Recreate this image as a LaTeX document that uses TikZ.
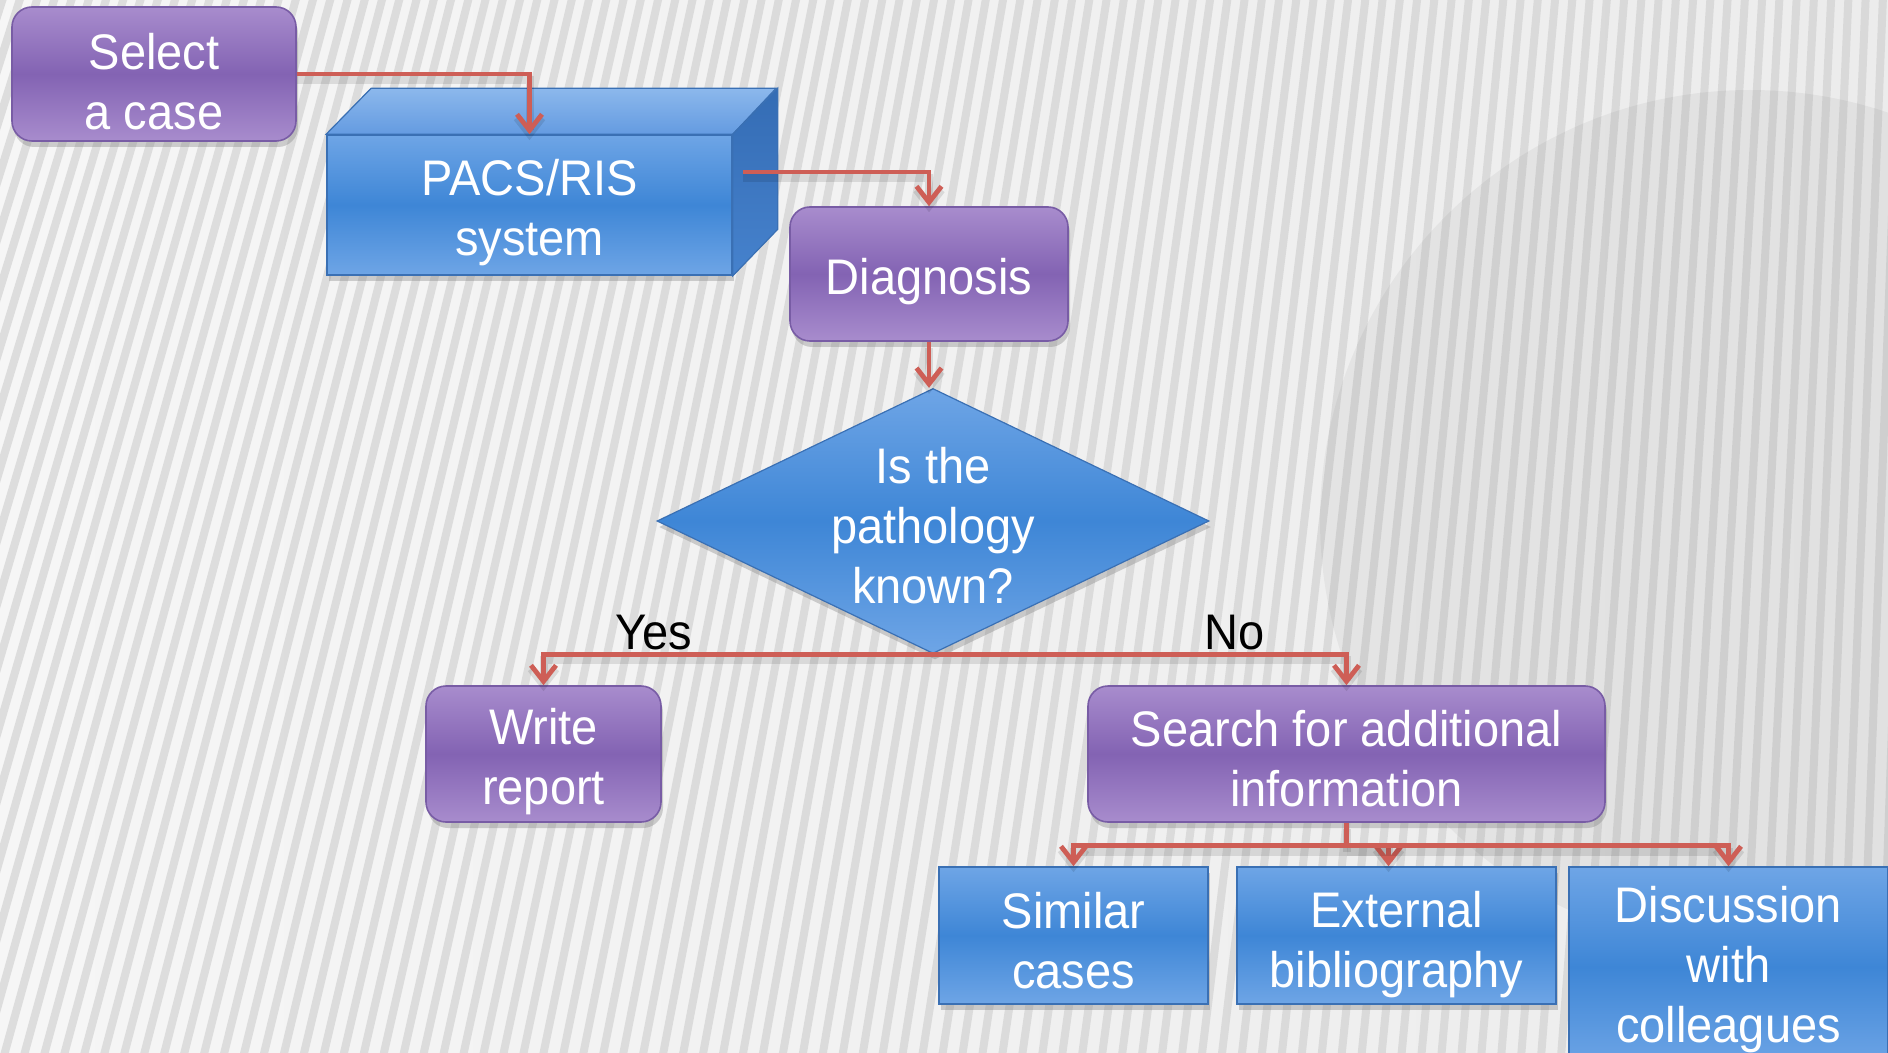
\documentclass[tikz,border=0pt]{standalone}
\usepackage{fontspec}
\setmainfont[FakeStretch=0.94]{Liberation Sans}
\usetikzlibrary{arrows.meta,shapes.geometric,shadows,calc}
\definecolor{purpTop}{RGB}{168,140,205}
\definecolor{purpMid}{RGB}{131,99,179}
\definecolor{purpEdge}{RGB}{120,92,165}
\definecolor{bluTop}{RGB}{110,165,230}
\definecolor{bluMid}{RGB}{62,134,214}
\definecolor{bluEdge}{RGB}{58,112,180}
\definecolor{bluFace}{RGB}{140,184,236}
\definecolor{bluFaceB}{RGB}{100,155,225}
\definecolor{bluSide}{RGB}{52,108,180}
\definecolor{bluSideB}{RGB}{70,130,205}
\definecolor{arrowc}{RGB}{206,94,86}
\definecolor{bgA}{RGB}{246,246,246}
\definecolor{bgB}{RGB}{236,236,236}
\definecolor{stripec}{RGB}{205,205,205}
\newcommand\dfont{\fontsize{25}{30}\selectfont}
\newcommand\tup{\rule{0pt}{25.5pt}}
\begin{document}
\begin{tikzpicture}[x=0.5pt,y=-0.5pt,
  shad/.style={drop shadow={opacity=0.35,shadow xshift=1pt,shadow yshift=-3pt}},
  purp/.style={rectangle,rounded corners=10pt,draw=purpEdge,line width=0.8pt,
    top color=purpTop,bottom color=purpTop,middle color=purpMid,
    text=white,align=center,font=\dfont,inner sep=0pt,shad},
  blu/.style={rectangle,draw=bluEdge,line width=0.8pt,
    top color=bluTop,bottom color=bluTop,middle color=bluMid,
    text=white,align=center,font=\dfont,inner sep=0pt,shad},
  txt/.style={text=white,align=center,font=\dfont,inner sep=0pt},
  lbl/.style={text=black,font=\dfont,inner sep=0pt},
  lshad/.style={preaction={draw=black,opacity=0.10,line width=4pt,transform canvas={yshift=-3pt}}},
  conn/.style={draw=arrowc,line width=2.4pt,lshad,-{Straight Barb[length=8pt,width=12.5pt]}},
  line/.style={draw=arrowc,line width=2.4pt,lshad},
  stripe/.style={draw=stripec,opacity=0.6,line width=4pt}]
\clip (0,0) rectangle (1888,1053);
% background
\shade[left color=bgA,right color=bgB] (0,0) rectangle (1888,1053);
\foreach \i in {0,...,118} {
  \pgfmathsetmacro\xa{-420+\i*20}
  \pgfmathsetmacro\tilt{max(30,360-\i*2.8)}
  \draw[stripe] (\xa,1070) -- ({\xa+\tilt},-20);
}
\fill[black,opacity=0.045] (1750,520) circle (430);
% nodes
\node[purp,minimum width=142pt,minimum height=67pt] (sel) at (154,74) {\tup Select\\a case};
\node[blu,minimum width=202.5pt,minimum height=70pt] (pacs) at (529.5,205) {\tup PACS/RIS\\system};
\fill[top color=bluFace,bottom color=bluFaceB,draw=bluEdge,line width=0.6pt]
  (pacs.north west) -- ++(45,-46) -- ++(405,0) -- (pacs.north east) -- cycle;
\fill[top color=bluSide,bottom color=bluSideB,draw=bluEdge,line width=0.6pt]
  (pacs.north east) -- ++(45,-46) -- ++(0,141) -- (pacs.south east) -- cycle;
\node[purp,minimum width=139pt,minimum height=67pt] (diag) at (929,274) {\tup Diagnosis};
\node[diamond,minimum width=276pt,minimum height=132.5pt,inner sep=0pt,
  draw=bluEdge,line width=0.6pt,top color=bluTop,bottom color=bluTop,middle color=bluMid,shad]
  (dia) at (933,521) {};
\node[txt] (diat) at (933,526) {Is the\\pathology\\known?};
\node[purp,minimum width=117.5pt,minimum height=68pt] (write) at (543.5,754) {\tup Write\\report};
\node[purp,minimum width=258.5pt,minimum height=68pt] (search) at (1346.5,754) {\rule{0pt}{23pt}Search for additional\\information};
\node[blu,minimum width=134.5pt,minimum height=68.5pt] (sim) at (1073.5,935.5) {\rule{0pt}{23.5pt}Similar\\cases};
\node[blu,minimum width=159.5pt,minimum height=68.5pt] (ext) at (1396.5,935.5) {\rule{0pt}{27pt}External\\bibliography};
\node[blu,minimum width=159.5pt,minimum height=100pt] (disc) at (1728.5,967) {\rule{0pt}{21pt}Discussion\\with\\colleagues};
\node[lbl] (yes) at (654,633) {Yes};
\node[lbl] (no) at (1235,633) {No};
% connectors
\coordinate (pout) at (743,172);
\draw[conn] (sel.east) -| (pacs.north);
\draw[conn] (pout) -| (diag.north);
\draw[conn] (diag.south) -- (diag.south |- dia.north);
\draw[conn] (dia.south) -| (write.north);
\draw[conn] (dia.south) -| (search.north);
\coordinate (br) at ($(search.south)+(0,23)$);
\draw[line] (search.south) -- (br);
\draw[conn] (br) -| (sim.north);
\draw[conn] (br) -| ($(ext.north)+(-8,0)$);
\draw[conn] (br) -| (disc.north);
\end{tikzpicture}
\end{document}
